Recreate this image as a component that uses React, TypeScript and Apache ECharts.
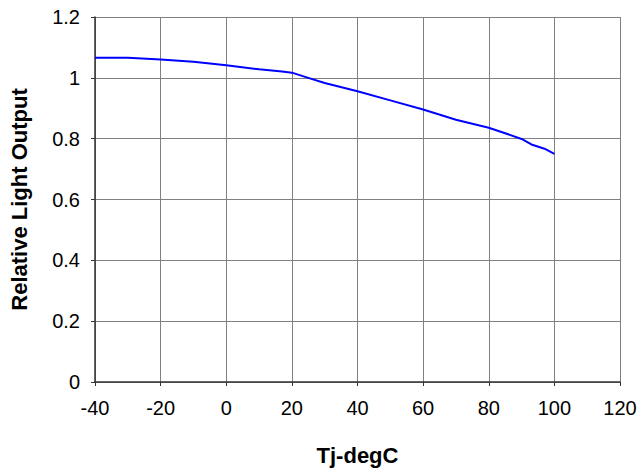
import React, { useEffect, useRef } from "react";
import * as echarts from "echarts";

const tempC = [-40, -30, -20, -10, 0, 10, 17, 20, 25, 30, 40, 50, 60, 70, 80, 85, 90, 93, 97, 100];
const relOutput = [1.066, 1.066, 1.06, 1.053, 1.041, 1.028, 1.021, 1.017, 1.0, 0.983, 0.956, 0.926, 0.896, 0.862, 0.836, 0.818, 0.799, 0.781, 0.767, 0.75];

export default function App() {
  const ref = useRef<HTMLDivElement>(null);
  useEffect(() => {
    const chart = echarts.init(ref.current!, null, { renderer: "svg" });
    const font = "Liberation Sans, Arial, sans-serif";
    chart.setOption({
      animation: false,
      backgroundColor: "#ffffff",
      grid: { left: 94, right: 20, top: 17, bottom: 90 },
      xAxis: {
        type: "value",
        min: -40,
        max: 120,
        interval: 20,
        name: "Tj-degC",
        nameLocation: "middle",
        nameGap: 62,
        nameTextStyle: { fontFamily: font, fontSize: 22, fontWeight: "bold", color: "#000" },
        axisLine: { show: true, onZero: false, lineStyle: { color: "#333", width: 1.5 } },
        axisTick: { show: true, inside: false, length: 4, lineStyle: { color: "#333" } },
        axisLabel: { fontFamily: font, fontSize: 20, color: "#000", margin: 16 },
        splitLine: { show: true, lineStyle: { color: "#808080", width: 1 } },
      },
      yAxis: {
        type: "value",
        min: 0,
        max: 1.2,
        interval: 0.2,
        name: "Relative Light Output",
        nameLocation: "middle",
        nameGap: 65,
        nameTextStyle: { fontFamily: font, fontSize: 22, fontWeight: "bold", color: "#000" },
        axisLine: { show: true, onZero: false, lineStyle: { color: "#333", width: 1.5 } },
        axisTick: { show: true, inside: false, length: 4, lineStyle: { color: "#333" } },
        axisLabel: {
          fontFamily: font,
          fontSize: 20,
          color: "#000",
          margin: 15,
          formatter: (v: number) => String(Math.round(v * 10) / 10),
        },
        splitLine: { show: true, lineStyle: { color: "#808080", width: 1 } },
      },
      series: [
        {
          type: "line",
          data: tempC.map((t, i) => [t, relOutput[i]]),
          showSymbol: false,
          symbol: "none",
          lineStyle: { color: "#0000ff", width: 2 },
        },
      ],
    });
    return () => chart.dispose();
  }, []);
  return (
    <div
      ref={ref}
      style={{ position: "absolute", left: 0, top: 0, width: 640, height: 472 }}
    />
  );
}
